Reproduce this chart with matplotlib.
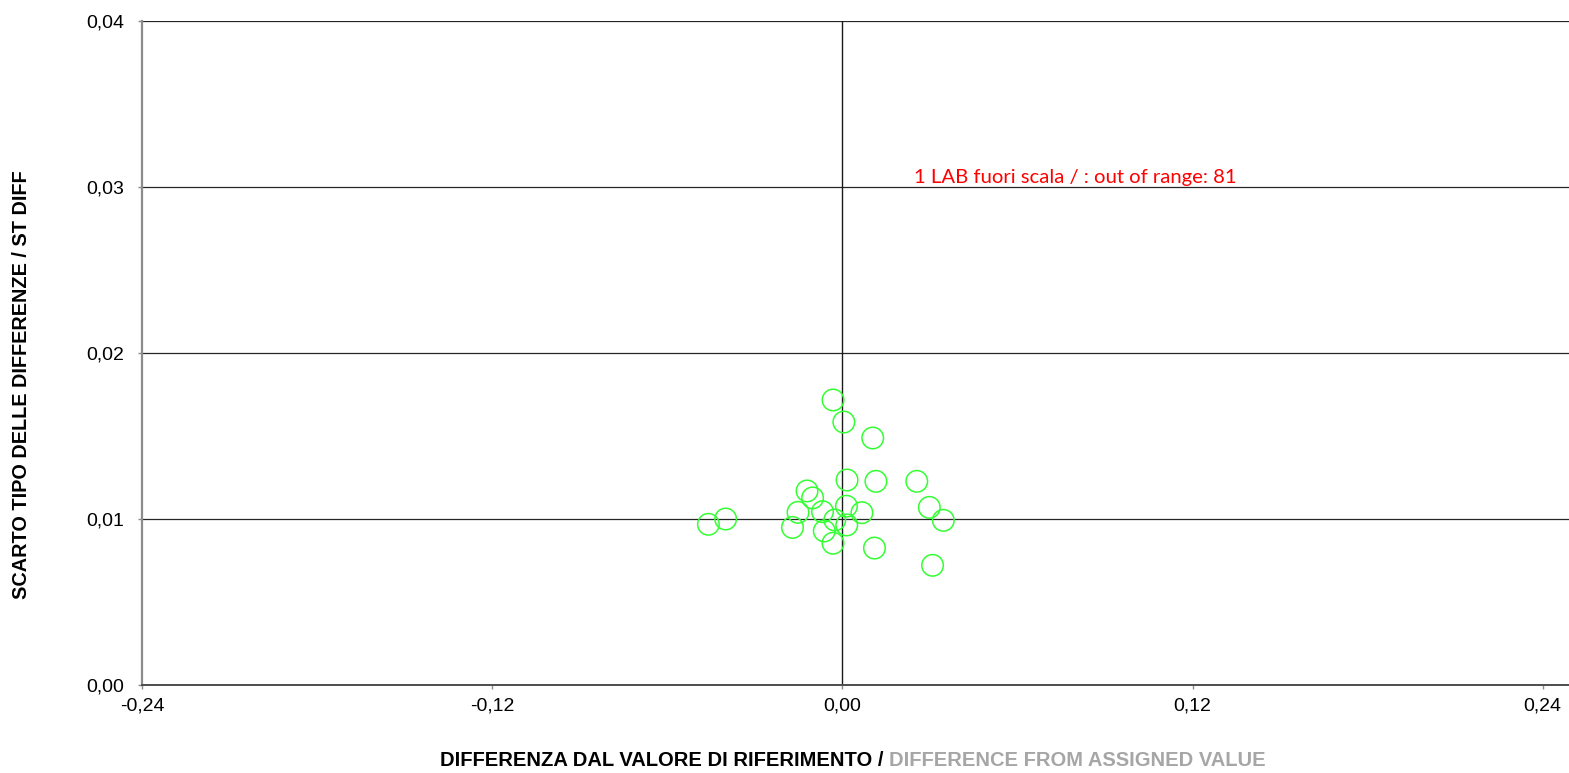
import matplotlib
matplotlib.use("Agg")
import matplotlib.pyplot as plt
from matplotlib.ticker import FuncFormatter

# Laboratory results: difference from assigned value vs. standard deviation of differences
diff_values = [-0.0032, 0.0005, 0.0104, 0.0016, 0.0115, 0.0255, -0.0121, -0.0102,
               -0.0152, -0.0068, 0.0014, 0.0067, 0.0298, 0.0346, -0.0400, -0.0459,
               -0.0171, -0.0062, 0.0015, -0.0032, 0.0110, 0.0309, -0.0026]
sd_values = [0.01717, 0.01584, 0.01488, 0.01235, 0.01227, 0.01227, 0.01169, 0.01127,
             0.01040, 0.01044, 0.01077, 0.01038, 0.01070, 0.00992, 0.01000, 0.00968,
             0.00949, 0.00928, 0.00964, 0.00854, 0.00825, 0.00721, 0.00994]

x_ticks = [-0.24, -0.12, 0.00, 0.12, 0.24]
y_ticks = [0.00, 0.01, 0.02, 0.03, 0.04]
note_text = "1 LAB fuori scala / : out of range: 81"
xlabel_it = "DIFFERENZA DAL VALORE DI RIFERIMENTO / "
xlabel_en = "DIFFERENCE FROM ASSIGNED VALUE"
ylabel = "SCARTO TIPO DELLE DIFFERENZE / ST DIFF"

W, H = 1569, 773
fig = plt.figure(figsize=(W / 100, H / 100), dpi=100)
fig.patch.set_facecolor("white")

ax = fig.add_axes([142 / W, (H - 685) / H, 1 - 142 / W, (685 - 21) / H])
ax.set_xlim(-0.24, 0.249)
ax.set_ylim(0.0, 0.04)

# horizontal grid lines and the vertical zero line
for yv in y_ticks[1:]:
    ax.axhline(yv, color="#262626", lw=0.9, zorder=1)
ax.axvline(0.0, color="#1a1a1a", lw=1.0, zorder=1)

ax.scatter(diff_values, sd_values, s=240, facecolors="none",
           edgecolors="#33ff33", linewidths=1.1, zorder=3)

for side in ("top", "right"):
    ax.spines[side].set_visible(False)
ax.spines["left"].set_color("#8c8c8c")
ax.spines["left"].set_linewidth(1.6)
ax.spines["bottom"].set_color("#4d4d4d")
ax.spines["bottom"].set_linewidth(1.4)

ax.set_xticks(x_ticks)
ax.set_yticks(y_ticks)
fmt = FuncFormatter(lambda v, p: f"{v:.2f}".replace(".", ","))
ax.xaxis.set_major_formatter(fmt)
ax.yaxis.set_major_formatter(fmt)
for lab in ax.get_xticklabels() + ax.get_yticklabels():
    lab.set_fontfamily("Liberation Sans")
    lab.set_fontsize(14)
ax.tick_params(axis="x", direction="out", length=3, width=1, color="#8c8c8c", pad=6)
ax.tick_params(axis="y", direction="out", length=3, width=1, color="#8c8c8c", pad=10)

ax.text(0.0245, 0.0306, note_text, color="#ff0000", fontsize=14.6,
        family="Lato", va="center", ha="left")

# y axis title
fig.text(22 / W, 1 - 385 / H, ylabel, rotation=90, ha="center", va="center",
         fontsize=14.3, fontweight="bold", family="Liberation Sans")

# two-coloured x axis title
t1 = fig.text(889 / W, 1 - 760 / H, xlabel_it, ha="right", va="center",
              fontsize=14.5, fontweight="bold", family="Liberation Sans",
              color="black")
fig.canvas.draw()
ax.annotate(xlabel_en, xy=(1, 0.5), xycoords=t1, ha="left", va="center",
            fontsize=14.5, fontweight="bold", family="Liberation Sans",
            color="#a6a6a6", annotation_clip=False)

fig.savefig("out.png", dpi=100, facecolor="white")
